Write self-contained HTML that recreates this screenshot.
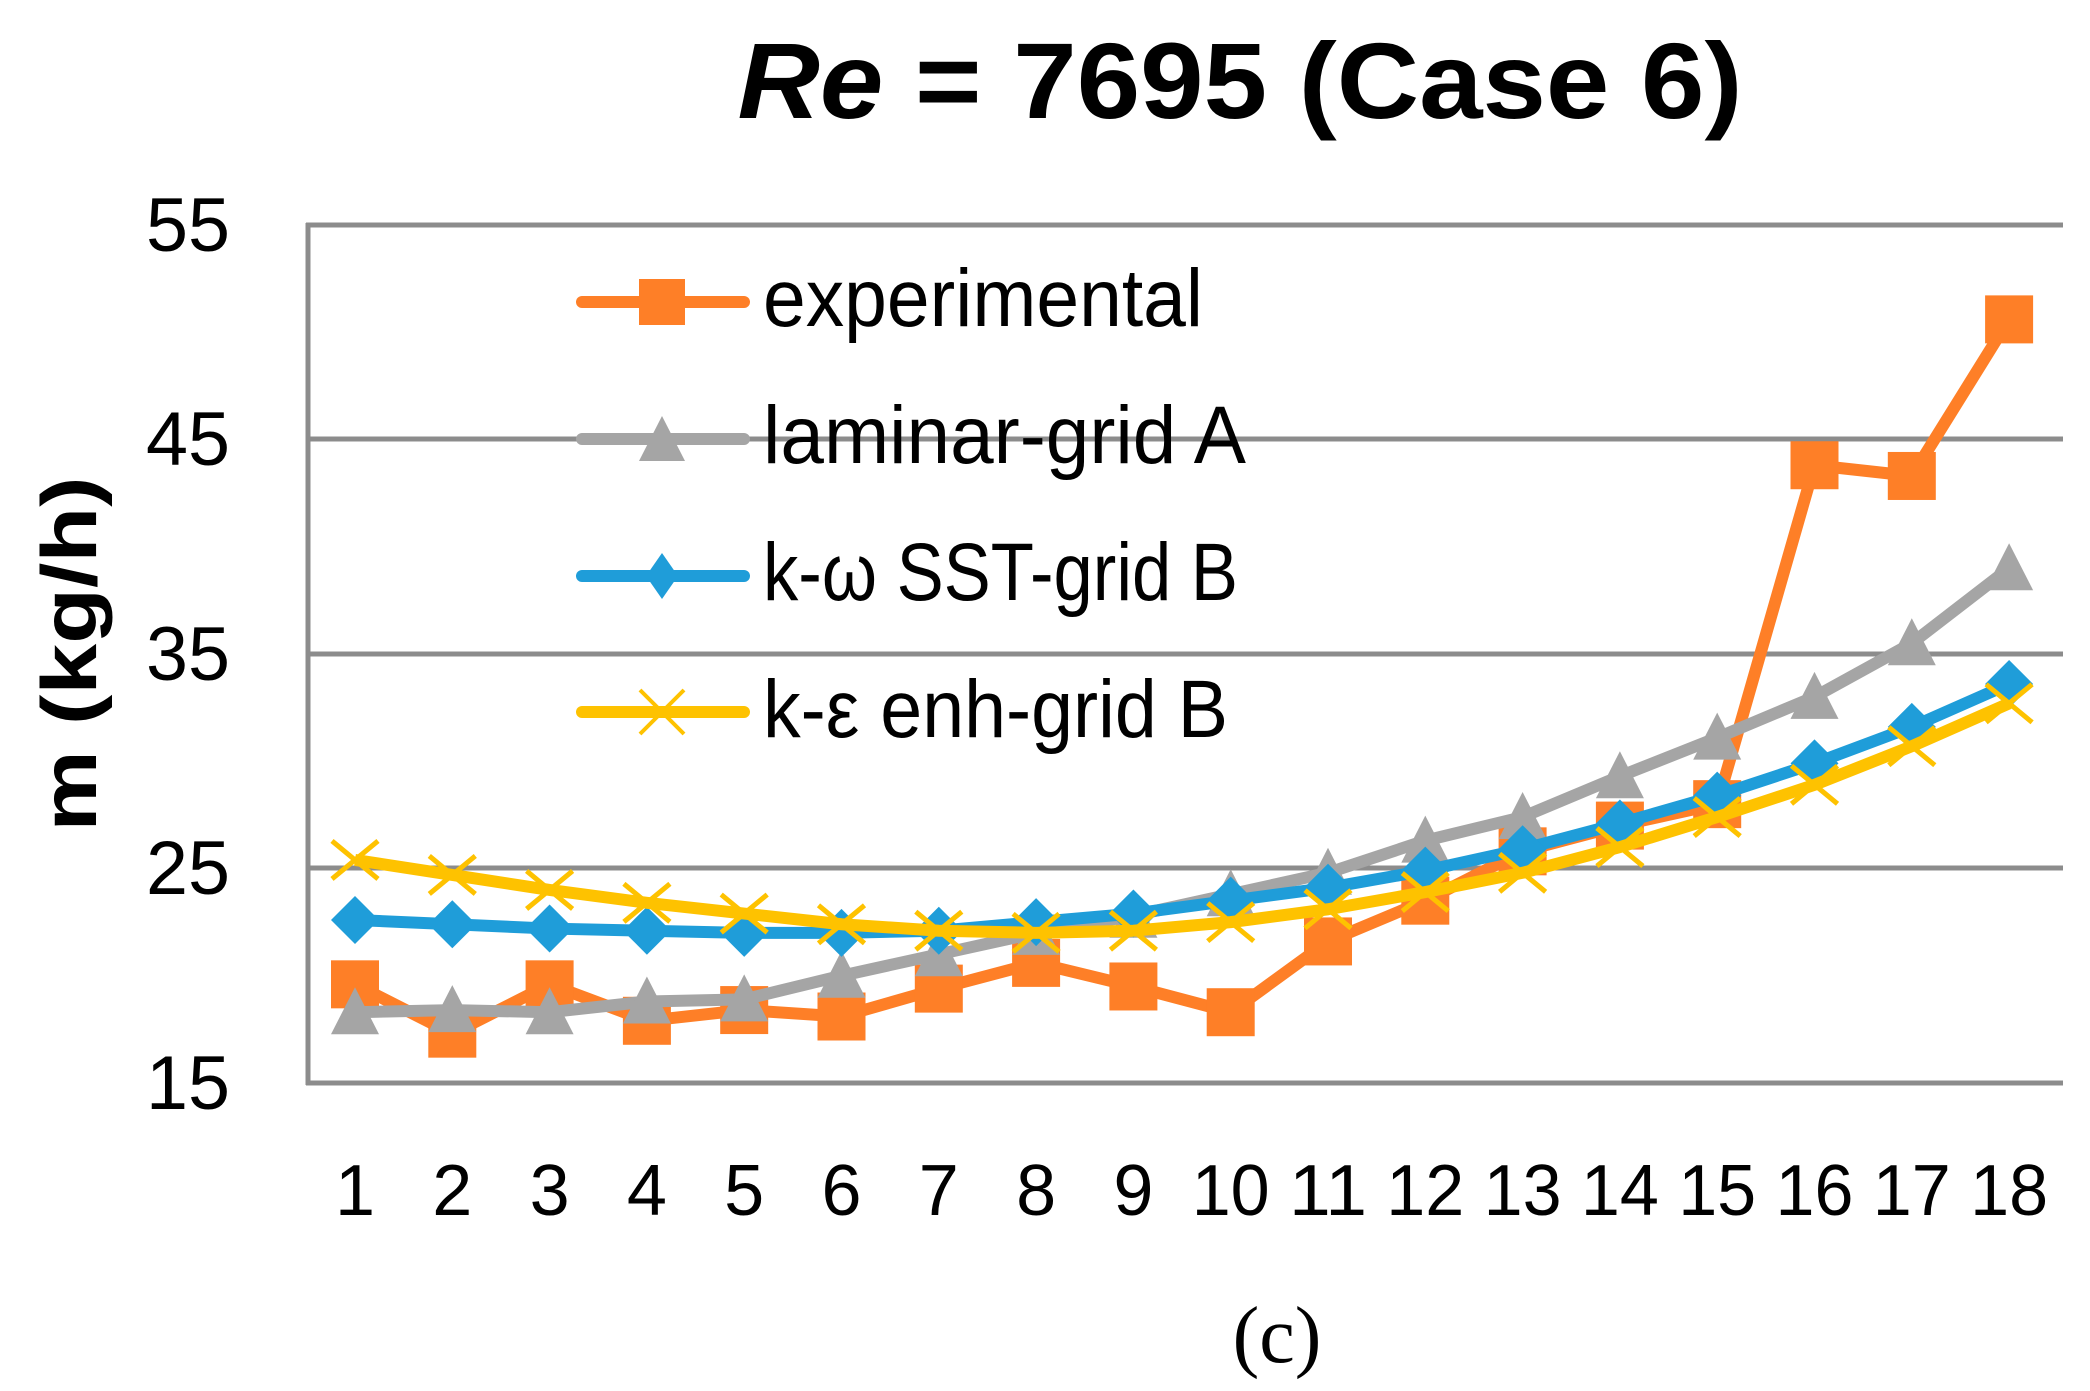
<!DOCTYPE html>
<html><head><meta charset="utf-8"><style>html,body{margin:0;padding:0;background:#fff}svg{display:block}</style></head>
<body>
<svg width="2090" height="1391" viewBox="0 0 2090 1391" xmlns="http://www.w3.org/2000/svg" font-family="Liberation Sans, sans-serif">
<rect width="2090" height="1391" fill="#fff"/>
<text x="1240" y="118" font-size="108" font-weight="bold" text-anchor="middle" textLength="1005" lengthAdjust="spacingAndGlyphs"><tspan font-style="italic">Re</tspan> = 7695 (Case 6)</text>
<g stroke="#8c8c8c" stroke-width="5" fill="none">
<line x1="306" y1="225" x2="2063" y2="225"/>
<line x1="306" y1="439" x2="2063" y2="439"/>
<line x1="306" y1="654" x2="2063" y2="654"/>
<line x1="306" y1="868" x2="2063" y2="868"/>
<line x1="306" y1="1083" x2="2063" y2="1083"/>
<line x1="308" y1="223" x2="308" y2="1085"/>
</g>
<g font-size="76" text-anchor="end">
<text x="230" y="251" textLength="84" lengthAdjust="spacingAndGlyphs">55</text><text x="230" y="465" textLength="84" lengthAdjust="spacingAndGlyphs">45</text><text x="230" y="680" textLength="84" lengthAdjust="spacingAndGlyphs">35</text><text x="230" y="894" textLength="84" lengthAdjust="spacingAndGlyphs">25</text><text x="230" y="1109" textLength="84" lengthAdjust="spacingAndGlyphs">15</text>
</g>
<g font-size="72" text-anchor="middle" id="xl"></g>
<text transform="translate(96,654) rotate(-90)" font-size="78" font-weight="bold" text-anchor="middle" textLength="355" lengthAdjust="spacingAndGlyphs">m (kg/h)</text>
<text x="1277" y="1362" font-size="80" font-family="Liberation Serif, serif" text-anchor="middle">(c)</text>
<g id="series"></g>
<g font-size="82">
<line x1="582" y1="302" x2="744" y2="302" stroke="#fe7f27" stroke-width="12" stroke-linecap="round"/>
<rect x="639" y="279" width="46" height="46" fill="#fe7f27"/>
<text x="763" y="326" textLength="440" lengthAdjust="spacingAndGlyphs">experimental</text>
<line x1="582" y1="439" x2="744" y2="439" stroke="#a5a5a5" stroke-width="12" stroke-linecap="round"/>
<polygon points="662,416 685,461 639,461" fill="#a5a5a5"/>
<text x="763" y="463" textLength="483" lengthAdjust="spacingAndGlyphs">laminar-grid A</text>
<line x1="582" y1="576" x2="744" y2="576" stroke="#1f9dd9" stroke-width="12" stroke-linecap="round"/>
<polygon points="662,553 678,576 662,599 646,576" fill="#1f9dd9"/>
<text x="763" y="600" textLength="475" lengthAdjust="spacingAndGlyphs">k-ω SST-grid B</text>
<line x1="582" y1="712" x2="744" y2="712" stroke="#fec200" stroke-width="12" stroke-linecap="round"/>
<path d="M640,690 L684,734 M684,690 L640,734" stroke="#fec200" stroke-width="4"/>
<text x="763" y="737" textLength="465" lengthAdjust="spacingAndGlyphs">k-ε enh-grid B</text>
</g>
<script>
var ns="http://www.w3.org/2000/svg";
function X(i){return 355+(i)*97.3}
function Y(v){return 1083-(v-15)*21.45}
var xl=document.getElementById('xl');
for(var i=0;i<18;i++){var t=document.createElementNS(ns,'text');t.setAttribute('x',X(i));t.setAttribute('y',1215);t.textContent=i+1;if(i>=9){t.setAttribute('textLength','78');t.setAttribute('lengthAdjust','spacingAndGlyphs');}xl.appendChild(t);}
var exp=[19.6,17.3,19.6,17.9,18.4,18.1,19.4,20.6,19.5,18.3,21.6,23.5,25.8,27,28,43.8,43.3,50.6];
var lam=[18.3,18.4,18.3,18.8,18.9,20,21,22,22.8,23.8,24.8,26.3,27.4,29.3,31.1,33,35.5,39];
var kw=[22.6,22.4,22.2,22.1,22,22,22.1,22.5,22.9,23.5,24.1,24.9,25.9,27.1,28.4,29.9,31.6,33.6];
var ke=[25.4,24.7,24,23.4,22.9,22.4,22.1,22.0,22.1,22.5,23.1,23.9,24.8,26,27.4,28.9,30.7,32.7];
var g=document.getElementById('series');
function line(d,c){var p=document.createElementNS(ns,'polyline');p.setAttribute('points',d.map(function(v,i){return X(i)+','+Y(v)}).join(' '));p.setAttribute('fill','none');p.setAttribute('stroke',c);p.setAttribute('stroke-width','12');p.setAttribute('stroke-linejoin','round');g.appendChild(p);}
function el(tag,a){var e=document.createElementNS(ns,tag);for(var k in a)e.setAttribute(k,a[k]);g.appendChild(e);}
line(exp,'#fe7f27');exp.forEach(function(v,i){el('rect',{x:X(i)-24,y:Y(v)-24,width:48,height:48,fill:'#fe7f27'})});
line(lam,'#a5a5a5');lam.forEach(function(v,i){var x=X(i),y=Y(v);el('polygon',{points:x+','+(y-25)+' '+(x+24)+','+(y+22)+' '+(x-24)+','+(y+22),fill:'#a5a5a5'})});
line(kw,'#1f9dd9');kw.forEach(function(v,i){var x=X(i),y=Y(v);el('polygon',{points:x+','+(y-24)+' '+(x+24)+','+y+' '+x+','+(y+24)+' '+(x-24)+','+y,fill:'#1f9dd9'})});
line(ke,'#fec200');ke.forEach(function(v,i){var x=X(i),y=Y(v);el('path',{d:'M'+(x-23)+','+(y-19)+' L'+(x+23)+','+(y+19)+' M'+(x+23)+','+(y-19)+' L'+(x-23)+','+(y+19),stroke:'#fec200','stroke-width':5})});
</script>
</svg>
</body></html>
